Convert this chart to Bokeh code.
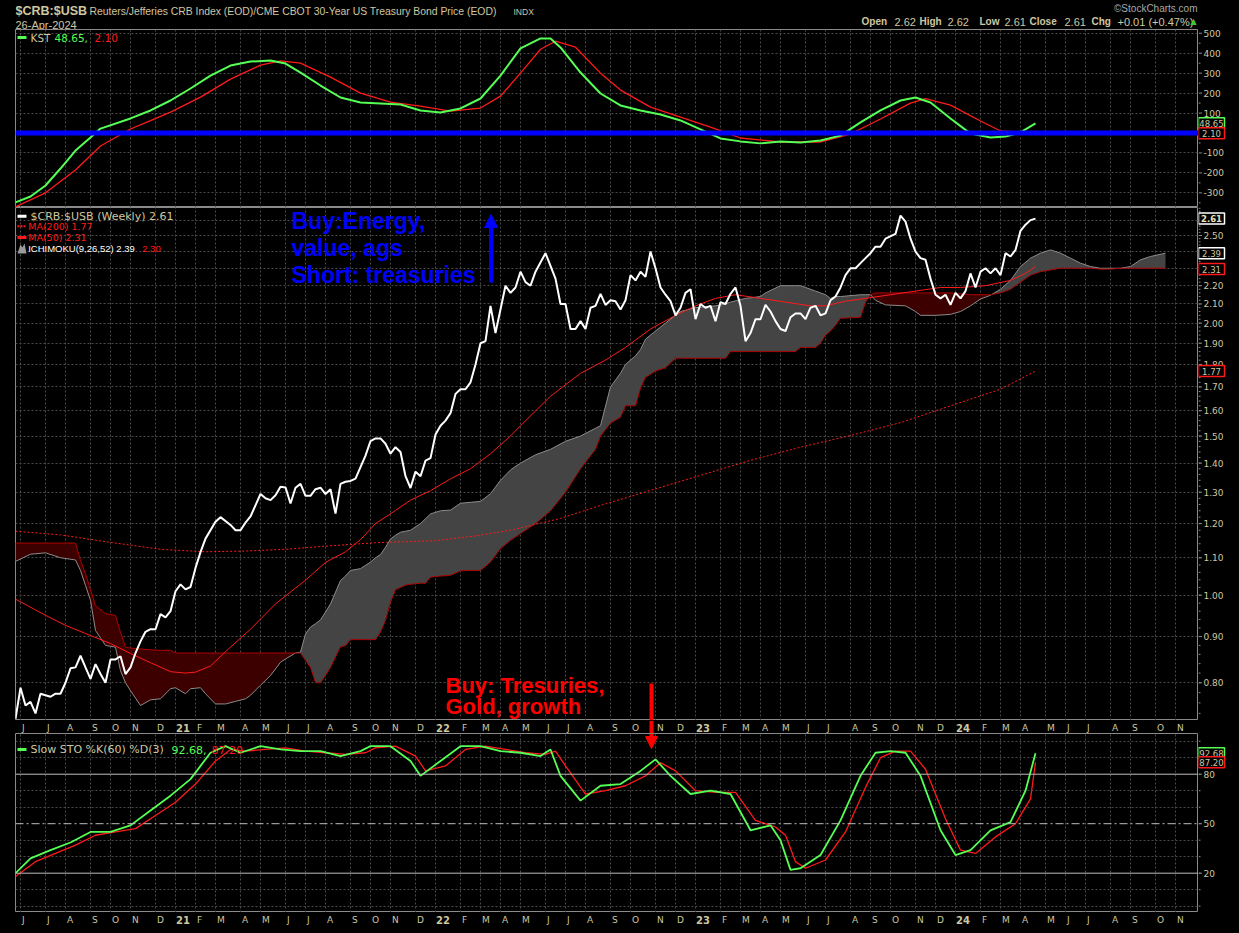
import math
import pandas as pd
from bokeh.plotting import figure
from bokeh.layouts import column, row
from bokeh.models import Range1d, FixedTicker, Span, Arrow, NormalHead
from bokeh.core.properties import value
from bokeh.embed import file_html
from bokeh.resources import INLINE

# ---------------- data (weekly bars, week index counted from 2020-05-29) ----------------
START = "2020-05-29"

price_wk = [0, 1, 2, 3, 4, 5, 7, 8, 9, 10, 11, 12, 13, 14, 15, 16, 17, 18, 19, 20, 21, 22, 23, 24, 25, 26, 27, 28, 29, 30,
            31, 32, 33, 34, 35, 36, 37, 38, 40, 41, 43, 44, 45, 46, 47, 49, 50, 51, 52, 53, 54, 55, 56, 57, 58, 59, 60, 61,
            62, 63, 64, 65, 66, 67, 68, 69, 70, 71, 72, 73, 74, 75, 76, 77, 78, 79, 80, 81, 82, 83, 84, 85, 86, 87, 88, 89,
            90, 91, 92, 93, 94, 95, 96, 98, 99, 100, 101, 102, 103, 104, 106, 108, 109, 110, 111, 112, 113, 114, 115, 116,
            117, 118, 119, 120, 121, 122, 123, 124, 125, 126, 127, 128, 129, 130, 131, 132, 133, 134, 135, 136, 137, 138,
            139, 140, 141, 142, 143, 144, 145, 146, 147, 148, 149, 150, 151, 152, 153, 154, 155, 156, 157, 158, 159, 160,
            161, 162, 163, 164, 165, 166, 167, 168, 169, 170, 171, 172, 173, 174, 176, 177, 178, 179, 180, 181, 182, 183,
            184, 185, 186, 187, 188, 189, 190, 191, 192, 193, 194, 195, 196, 197, 198, 199, 200, 201, 202, 203, 204]
price = [0.73, 0.79, 0.755, 0.762, 0.74, 0.778, 0.772, 0.778, 0.778, 0.80, 0.83, 0.832, 0.857, 0.832, 0.808, 0.839, 0.818,
         0.80, 0.849, 0.849, 0.856, 0.818, 0.832, 0.863, 0.889, 0.911, 0.917, 0.917, 0.953, 0.945, 0.96, 1.01, 1.028, 1.015,
         1.021, 1.072, 1.116, 1.155, 1.206, 1.22, 1.196, 1.18, 1.18, 1.203, 1.222, 1.294, 1.28, 1.274, 1.29, 1.318, 1.316,
         1.263, 1.315, 1.328, 1.288, 1.288, 1.31, 1.315, 1.294, 1.31, 1.231, 1.328, 1.335, 1.338, 1.346, 1.386, 1.427,
         1.481, 1.491, 1.491, 1.471, 1.434, 1.458, 1.44, 1.354, 1.314, 1.37, 1.354, 1.409, 1.418, 1.506, 1.54, 1.56, 1.59,
         1.67, 1.69, 1.69, 1.72, 1.80, 1.90, 1.91, 2.09, 1.95, 2.20, 2.16, 2.19, 2.28, 2.22, 2.20, 2.28, 2.39, 2.24, 2.10,
         2.10, 1.97, 1.97, 2.01, 1.97, 2.08, 2.09, 2.155, 2.095, 2.12, 2.115, 2.07, 2.12, 2.26, 2.23, 2.28, 2.25, 2.40,
         2.30, 2.19, 2.15, 2.115, 2.04, 2.08, 2.16, 2.18, 2.02, 2.10, 2.08, 2.09, 2.01, 2.11, 2.10, 2.155, 2.19, 2.09,
         1.91, 1.95, 2.02, 2.02, 2.095, 2.06, 2.01, 1.97, 1.96, 2.03, 2.05, 2.05, 2.02, 2.08, 2.09, 2.04, 2.05, 2.12, 2.14,
         2.19, 2.26, 2.30, 2.30, 2.33, 2.36, 2.39, 2.43, 2.43, 2.48, 2.51, 2.63, 2.59, 2.48, 2.40, 2.36, 2.35, 2.24, 2.15,
         2.13, 2.15, 2.095, 2.16, 2.13, 2.17, 2.27, 2.19, 2.28, 2.30, 2.27, 2.30, 2.26, 2.39, 2.37, 2.41, 2.53, 2.57, 2.60,
         2.61]

ma50_wk = [0, 6, 10, 14, 19, 23, 27, 31, 34, 36, 39, 42, 47, 52, 58, 62, 66, 69, 72, 76, 79, 83, 87, 91, 95,
           99, 101, 107, 113, 118, 122, 127, 132, 136, 140, 144, 149, 154, 159, 162, 166, 170, 175, 180, 185, 189, 194,
           199, 202, 204]
ma50 = [0.99, 0.95, 0.926, 0.907, 0.884, 0.862, 0.842, 0.823, 0.82, 0.822, 0.835, 0.866, 0.917, 0.978, 1.039, 1.087,
        1.117, 1.152, 1.20, 1.241, 1.274, 1.305, 1.345, 1.38, 1.434, 1.50, 1.54, 1.66, 1.76, 1.82, 1.88, 1.97, 2.04,
        2.09, 2.13, 2.15, 2.13, 2.11, 2.09, 2.09, 2.115, 2.13, 2.15, 2.17, 2.19, 2.19, 2.20, 2.23, 2.27, 2.31]

ma200_wk = [0, 9, 19, 29, 38, 46, 54, 62, 72, 84, 92, 99, 109, 117, 127, 137, 147, 157, 167, 177, 187, 197, 204]
ma200 = [1.177, 1.166, 1.144, 1.124, 1.117, 1.119, 1.124, 1.133, 1.143, 1.149, 1.163, 1.18, 1.216, 1.257, 1.306,
         1.357, 1.41, 1.458, 1.502, 1.552, 1.62, 1.69, 1.77]

# Ichimoku cloud (already shifted 26 weeks forward): span A and span B
cloud_wk = [0, 3, 6, 9, 12, 13, 14, 15, 16, 18,
            20, 21, 22, 23, 25, 27, 29, 31, 32, 34,
            35, 37, 38, 40, 42, 44, 46, 47, 49, 51,
            53, 54, 56, 57, 58, 59, 60, 61, 62, 63,
            65, 66, 67, 69, 71, 72, 73, 74, 75, 76,
            77, 78, 79, 81, 82, 83, 85, 87, 89, 91,
            93, 95, 97, 99, 101, 104, 107, 110, 113, 116,
            117, 119, 121, 122, 124, 125, 126, 128, 130, 132,
            133, 136, 140, 142, 143, 146, 149, 150, 153, 156,
            157, 158, 160, 161, 162, 163, 164, 165, 169, 170,
            171, 172, 174, 178, 180, 181, 184, 187, 189, 191,
            193, 195, 197, 199, 201, 203, 205, 207, 209, 211,
            213, 215, 217, 219, 221, 223, 225, 227, 230]
span_a = [1.09, 1.11, 1.114, 1.10, 1.094, 1.065, 1.025, 0.987, 0.914, 0.88,
          0.876, 0.825, 0.80, 0.784, 0.755, 0.766, 0.768, 0.788, 0.79, 0.778,
          0.788, 0.79, 0.778, 0.758, 0.758, 0.763, 0.768, 0.775, 0.795, 0.815,
          0.843, 0.85, 0.863, 0.865, 0.906, 0.922, 0.93, 0.939, 0.958, 0.978,
          1.038, 1.05, 1.065, 1.07, 1.088, 1.10, 1.109, 1.13, 1.154, 1.165,
          1.174, 1.177, 1.18, 1.20, 1.215, 1.23, 1.24, 1.242, 1.264, 1.267,
          1.27, 1.295, 1.34, 1.376, 1.40, 1.43, 1.45, 1.48, 1.50, 1.53,
          1.54, 1.70, 1.76, 1.80, 1.84, 1.87, 1.92, 1.96, 2.00, 2.04,
          2.06, 2.08, 2.09, 2.10, 2.11, 2.13, 2.14, 2.16, 2.20, 2.20,
          2.20, 2.19, 2.17, 2.16, 2.15, 2.13, 2.14, 2.14, 2.15, 2.15,
          2.15, 2.12, 2.095, 2.09, 2.06, 2.04, 2.04, 2.045, 2.06, 2.09,
          2.127, 2.147, 2.18, 2.23, 2.31, 2.36, 2.39, 2.41, 2.39, 2.36,
          2.33, 2.31, 2.30, 2.30, 2.30, 2.31, 2.35, 2.37, 2.39]
span_b = [1.142, 1.142, 1.142, 1.142, 1.142, 1.093, 1.056, 1.014, 0.974, 0.954,
          0.95, 0.91, 0.876, 0.874, 0.872, 0.87, 0.869, 0.869, 0.863, 0.863,
          0.863, 0.863, 0.863, 0.863, 0.863, 0.863, 0.863, 0.863, 0.863, 0.863,
          0.863, 0.863, 0.863, 0.863, 0.847, 0.832, 0.80, 0.80, 0.815, 0.832,
          0.877, 0.879, 0.893, 0.893, 0.893, 0.893, 0.91, 0.938, 0.982, 1.014,
          1.02, 1.026, 1.028, 1.031, 1.031, 1.047, 1.05, 1.052, 1.064, 1.065,
          1.065, 1.088, 1.126, 1.15, 1.17, 1.20, 1.24, 1.30, 1.38, 1.45,
          1.50, 1.55, 1.574, 1.62, 1.62, 1.694, 1.742, 1.77, 1.785, 1.829,
          1.829, 1.829, 1.829, 1.829, 1.86, 1.86, 1.86, 1.86, 1.86, 1.86,
          1.88, 1.88, 1.88, 1.90, 1.94, 1.96, 1.99, 2.025, 2.03, 2.11,
          2.15, 2.16, 2.16, 2.16, 2.16, 2.16, 2.16, 2.16, 2.155, 2.15,
          2.15, 2.15, 2.16, 2.18, 2.22, 2.26, 2.28, 2.29, 2.30, 2.30,
          2.30, 2.30, 2.295, 2.295, 2.30, 2.30, 2.30, 2.30, 2.30]

kst_wk = [0, 3, 6, 9, 12, 15, 17, 23, 27, 31, 35, 39, 43, 47, 51, 54, 57, 61, 65, 69, 73, 77, 81, 85, 89, 93, 97,
          101, 105, 107, 109, 113, 117, 121, 125, 129, 133, 137, 141, 145, 149, 153, 157, 161, 165, 169, 173, 177,
          180, 183, 187, 191, 195, 198, 201, 204]
kst = [-348, -318, -263, -178, -88, -23, 22, 73, 113, 163, 223, 288, 338, 358, 363, 348, 303, 238, 178, 153, 148,
       143, 113, 103, 123, 173, 288, 424, 474, 474, 429, 303, 198, 138, 113, 93, 63, 18, -27, -42, -52, -42, -47,
       -38, -13, 53, 113, 163, 178, 153, 73, -3, -23, -18, 3, 48.65]
kst_sig_wk = [0, 6, 12, 17, 23, 27, 31, 37, 43, 49, 53, 57, 63, 69, 75, 81, 87, 93, 97, 101, 105, 108, 112, 117,
              121, 127, 133, 139, 145, 153, 161, 167, 173, 179, 182, 187, 193, 197, 204]
kst_sig = [-370, -300, -185, -65, 20, 62, 105, 180, 270, 340, 362, 350, 280, 200, 155, 135, 110, 125, 185, 300,
           420, 460, 430, 300, 215, 130, 80, 30, -25, -45, -45, -5, 70, 150, 172, 140, 60, 10, 2.10]

sto_wk = [0, 3, 7, 11, 15, 19, 23, 27, 31, 35, 39, 42, 45, 49, 53, 57, 61, 65, 69, 71, 75, 79, 81, 85, 89, 93, 97,
          101, 105, 107, 109, 113, 117, 121, 125, 128, 131, 135, 139, 143, 147, 151, 153, 155, 157, 161, 165, 169,
          172, 175, 178, 181, 185, 188, 191, 195, 199, 202, 204]
sto_k = [20, 29, 34, 38.6, 45, 45, 49, 58, 67, 77, 93, 97, 93, 97, 95, 94, 94, 91, 94, 97, 97, 88, 79, 88, 97, 97, 94,
         93, 91, 95, 79, 64, 73, 74, 82, 89, 79, 68, 70, 68, 46, 49, 40, 22, 23, 31, 52, 79, 93, 94, 93, 79, 46, 31,
         34, 46, 51, 70, 92.68]
sto_d_wk = [0, 4, 8, 12, 16, 20, 24, 28, 32, 36, 40, 43, 46, 50, 54, 58, 62, 66, 70, 72, 76, 80, 82, 86, 90, 94, 98,
            102, 106, 108, 110, 114, 118, 122, 126, 129, 132, 136, 140, 144, 148, 152, 154, 156, 158, 162, 166, 170,
            173, 176, 179, 182, 186, 189, 192, 196, 200, 203, 204]
sto_d = [18, 27, 32, 37, 43, 45, 47, 55, 63, 74, 88, 95, 94, 95, 96, 94, 93, 92, 93, 96, 97, 91, 82, 85, 95, 97, 95,
         93, 92, 94, 85, 68, 70, 73, 79, 87, 82, 70, 69, 69, 52, 48, 43, 27, 23, 28, 45, 72, 90, 94, 94, 83, 53, 34,
         32, 42, 50, 65, 87.20]

month_labels = ["J", "J", "A", "S", "O", "N", "D",
                "21", "F", "M", "A", "M", "J", "J", "A", "S", "O", "N", "D",
                "22", "F", "M", "A", "M", "J", "J", "A", "S", "O", "N", "D",
                "23", "F", "M", "A", "M", "J", "J", "A", "S", "O", "N", "D",
                "24", "F", "M", "A", "M", "J", "J", "A", "S", "O", "N"]
kst_ticks = [-300, -200, -100, 0, 100, 200, 300, 400, 500]
kst_labels = ["-300", "-200", "-100", "0", "100", "200", "300", "400", "500"]
price_ticks = [0.8, 0.9, 1.0, 1.1, 1.2, 1.3, 1.4, 1.5, 1.6, 1.7, 1.8, 1.9, 2.0, 2.1, 2.2, 2.3, 2.4, 2.5, 2.6]
price_labels = ["0.80", "0.90", "1.00", "1.10", "1.20", "1.30", "1.40", "1.50", "1.60", "1.70", "1.80", "1.90",
                "2.00", "2.10", "2.20", "2.30", "2.40", "2.50", "2.60"]
sto_ticks = [20, 50, 80]
sto_labels = ["20", "50", "80"]
sto_grid = [0, 10, 30, 40, 60, 70, 90, 100]

# ---------------- styling / geometry ----------------
TAN = "#cfc7a0"
GRID = "#4a4a4a"
FRAME = "#8a8a8a"
GREEN = "#55ff55"
RED = "#ff1a1a"
FONT = "DejaVu Sans"
LS = "Liberation Sans"
FW, BL, BR = 1183, 15, 33
X_END = FW / 5.0


def px_x(px):
    return (px - BL) / 5.0


def kst_y(py):
    return (132.5 - py) / 0.1995


def main_y(py):
    return 0.8 * math.exp((682.3 - py) / 392.6)


def sto_y(py):
    return 80 - (py - 773.7) / 1.65


start_ts = pd.Timestamp(START)
tick_wk = []
for m in pd.date_range("2020-06-01", "2024-11-01", freq="MS"):
    b = m + pd.Timedelta(days=4)
    d = b + pd.Timedelta(days=(4 - b.weekday()) % 7)
    tick_wk.append((d - start_ts).days / 7.0)


def panel(h, yr, ytype="linear", grid_ticks=None, framed=True):
    p = figure(frame_width=FW, frame_height=h, x_range=Range1d(0, X_END), y_range=yr,
               y_axis_type=ytype, x_axis_location=None, y_axis_location=None,
               toolbar_location=None, output_backend="svg",
               min_border_left=BL, min_border_right=0 if framed else BR, min_border_top=0, min_border_bottom=0,
               background_fill_color="black", border_fill_color="black",
               outline_line_color=FRAME if framed else None)
    p.xgrid.ticker = FixedTicker(ticks=tick_wk)
    p.xgrid.grid_line_color = GRID if framed else None
    p.xgrid.grid_line_dash = "2 2"
    if grid_ticks is not None:
        p.ygrid.ticker = FixedTicker(ticks=grid_ticks)
    p.ygrid.grid_line_color = GRID if framed else None
    p.ygrid.grid_line_dash = "2 2"
    return p


def side(h, yr, ytype, ticks, labels, minor):
    """Right-hand value scale of a panel: ticks, labels and value tags, on the panel's own y range."""
    s = figure(frame_width=BR, frame_height=h, x_range=Range1d(0, BR), y_range=yr, y_axis_type=ytype,
               x_axis_location=None, y_axis_location=None, toolbar_location=None, output_backend="svg",
               min_border=0, background_fill_color="black", border_fill_color="black", outline_line_color=None)
    s.xgrid.visible = False
    s.ygrid.visible = False
    s.segment(x0=[0] * len(minor), y0=minor, x1=[2] * len(minor), y1=minor, line_color=FRAME, line_width=1)
    s.segment(x0=[0] * len(ticks), y0=ticks, x1=[3.5] * len(ticks), y1=ticks, line_color=FRAME, line_width=1)
    s.text(x=[5] * len(ticks), y=ticks, text=labels, text_font=value(FONT), text_font_size="9px",
           text_color=TAN, text_baseline="middle")
    return s


def tag(s, y, label, border, bold=False):
    s.rect(x=[13], y=[y], width=[26], height=[11], height_units="screen", fill_color="black",
           line_color=border, line_width=1.5)
    s.text(x=[13], y=[y], text=[label], text_font=value(FONT), text_font_size="8.5px",
           text_font_style="bold" if bold else "normal", text_color="#eae2bc" if bold else TAN,
           text_baseline="middle", text_align="center")


def txt(p, x, y, s, color=TAN, size="10px", bold=False, font=FONT, align="left"):
    p.text(x=[x], y=[y], text=[s], text_font=value(font), text_font_size=size,
           text_font_style="bold" if bold else "normal", text_color=color,
           text_baseline="middle", text_align=align)


# ---------------- header (same frame geometry as the panels; x in page pixels) ----------------
hdr = figure(frame_width=FW, frame_height=29, x_range=Range1d(BL, BL + FW), y_range=Range1d(29, 0),
             x_axis_location=None, y_axis_location=None, toolbar_location=None, output_backend="svg",
             min_border_left=BL, min_border_right=BR, min_border_top=0, min_border_bottom=0,
             background_fill_color="black", border_fill_color="black", outline_line_color=None)
hdr.xgrid.visible = False
hdr.ygrid.visible = False
txt(hdr, 15, 10.5, "$CRB:$USB", bold=True, size="12.5px", font=LS)
txt(hdr, 89, 11, "Reuters/Jefferies CRB Index (EOD)/CME CBOT 30-Year US Treasury Bond Price (EOD)", size="10.4px", font=LS)
txt(hdr, 513, 11.5, "INDX", size="8.5px", font=LS)
txt(hdr, 15, 24, "26-Apr-2024", size="11px", font=LS)
txt(hdr, 1197, 8, "\u00a9StockCharts.com", color="#a8a8a8", size="10px", font=LS, align="right")
for xx, s, bo in [(861, "Open", True), (894, "2.62", False), (919, "High", True), (947, "2.62", False),
                  (979, "Low", True), (1004, "2.61", False), (1029, "Close", True), (1064, "2.61", False),
                  (1091, "Chg", True), (1117, "+0.01 (+0.47%)", False)]:
    txt(hdr, xx, 21, s, bold=bo, size="10px" if bo else "11px", font=LS)
txt(hdr, 1190, 21, "\u25b2", color="#33cc33", size="8px", font=FONT)

# ---------------- KST panel ----------------
kst_range = Range1d(-373.4, 518.8)
pk = panel(178, kst_range, grid_ticks=kst_ticks)
pk.line(kst_sig_wk, kst_sig, line_color=RED, line_width=1.3)
pk.line(kst_wk, kst, line_color=GREEN, line_width=2)
pk.add_layout(Span(location=0, dimension="width", line_color="#0000ff", line_width=5))
pk.segment(x0=[px_x(17)], y0=[kst_y(37)], x1=[px_x(26)], y1=[kst_y(37)], line_color=GREEN, line_width=3)
txt(pk, px_x(30), kst_y(37), "KST", size="10.5px")
txt(pk, px_x(54), kst_y(37), "48.65,", color=GREEN, size="10.5px")
txt(pk, px_x(94), kst_y(37), "2.10", color=RED, size="10.5px")
sk = side(178, kst_range, "linear", kst_ticks, kst_labels, [-350, -250, -150, -50, 50, 150, 250, 350, 450])
tag(sk, 48.65, "48.65", GREEN)
tag(sk, -1.0, "2.10", RED)

# ---------------- price panel ----------------
main_range = Range1d(0.7267, 2.685)
pm = panel(513, main_range, ytype="log", grid_ticks=price_ticks)
cloud_top = [max(a, b) for a, b in zip(span_a, span_b)]
pm.varea(x=cloud_wk, y1=span_b, y2=cloud_top, fill_color="#444444")
pm.varea(x=cloud_wk, y1=span_a, y2=cloud_top, fill_color="#3d0000")
pm.line(cloud_wk, span_a, line_color="#8c8c8c", line_width=1)
pm.line(cloud_wk, span_b, line_color="#b00000", line_width=1)
pm.line(ma200_wk, ma200, line_color=RED, line_width=1, line_dash="2 2")
pm.line(ma50_wk, ma50, line_color=RED, line_width=1)
pm.line(price_wk, price, line_color="white", line_width=2)

pm.segment(x0=[px_x(17)], y0=[main_y(215.7)], x1=[px_x(26)], y1=[main_y(215.7)], line_color="white", line_width=3)
txt(pm, px_x(30), main_y(215.7), "$CRB:$USB (Weekly) 2.61", size="11px")
pm.segment(x0=[px_x(17)], y0=[main_y(225.7)], x1=[px_x(26)], y1=[main_y(225.7)], line_color=RED, line_width=2,
           line_dash="2 1")
txt(pm, px_x(27.7), main_y(225.7), "MA(200) 1.77", color=RED, size="9.5px")
pm.segment(x0=[px_x(17)], y0=[main_y(237)], x1=[px_x(26)], y1=[main_y(237)], line_color=RED, line_width=3)
txt(pm, px_x(27.7), main_y(237), "MA(50) 2.31", color=RED, size="9.5px")
txt(pm, px_x(27.7), main_y(248.3), "ICHIMOKU(9,26,52) 2.39", color="white", size="9.5px", font=LS)
txt(pm, px_x(141.7), main_y(248.3), "2.30", color=RED, size="9.5px", font=LS)
pm.patch(x=[px_x(17), px_x(20), px_x(22), px_x(24), px_x(26)],
         y=[main_y(253), main_y(244), main_y(247), main_y(243), main_y(253)], fill_color="#9a9a9a", line_color=None)

BLUE = "#0000ff"
for yy, s in [(220, "Buy:Energy,"), (247, "value, ags"), (274, "Short: treasuries")]:
    txt(pm, px_x(291), main_y(yy), s, color=BLUE, size="23px", bold=True, font=LS)
pm.add_layout(Arrow(end=NormalHead(size=13, fill_color=BLUE, line_color=BLUE), line_color=BLUE, line_width=4,
                    x_start=px_x(490.5), y_start=main_y(282), x_end=px_x(490.5), y_end=main_y(214)))
for yy, s in [(685, "Buy: Tresuries,"), (706, "Gold, growth")]:
    txt(pm, px_x(445), main_y(yy), s, color="#ff0000", size="22px", bold=True, font=LS)
pm.add_layout(Arrow(end=None, line_color="#ff0000", line_width=4,
                    x_start=px_x(651), y_start=main_y(683), x_end=px_x(651), y_end=main_y(721)))
minor_main = [round(0.74 + 0.02 * i, 2) for i in range(100) if 0.74 + 0.02 * i < 2.68]
sm = side(513, main_range, "log", price_ticks, price_labels, minor_main)
tag(sm, 2.61, "2.61", "white", bold=True)
tag(sm, 2.39, "2.39", "white")
tag(sm, 2.295, "2.31", RED)
tag(sm, 1.77, "1.77", RED)


# ---------------- date bands ----------------
def band(arrow=False):
    b = panel(13, Range1d(0, 1), framed=False)
    norm = [(t + 0.3, s) for t, s in zip(tick_wk, month_labels) if not s.isdigit()]
    yrs = [(t + 0.1, s) for t, s in zip(tick_wk, month_labels) if s.isdigit()]
    b.text(x=[a for a, _ in norm], y=[0.45] * len(norm), text=[s for _, s in norm], text_font=value(FONT),
           text_font_size="9px", text_color=TAN, text_baseline="middle")
    b.text(x=[a for a, _ in yrs], y=[0.45] * len(yrs), text=[s for _, s in yrs], text_font=value(FONT),
           text_font_size="10px", text_font_style="bold", text_color=TAN, text_baseline="middle")
    if arrow:
        b.segment(x0=[px_x(651)], y0=[0], x1=[px_x(651)], y1=[1], line_color="#ff0000", line_width=4)
    return b


b1 = band(arrow=True)

# ---------------- Slow stochastic panel ----------------
sto_range = Range1d(-3.82, 104.67)
ps = panel(179, sto_range, grid_ticks=sto_grid)
ps.add_layout(Span(location=80, dimension="width", line_color="#bdbdbd", line_width=1))
ps.add_layout(Span(location=20, dimension="width", line_color="#bdbdbd", line_width=1))
ps.add_layout(Span(location=50, dimension="width", line_color="#bdbdbd", line_width=1, line_dash="8 3 2 3"))
ps.line(sto_d_wk, sto_d, line_color=RED, line_width=1.3)
ps.line(sto_wk, sto_k, line_color=GREEN, line_width=1.8)
ps.segment(x0=[px_x(17)], y0=[sto_y(749)], x1=[px_x(26)], y1=[sto_y(749)], line_color=GREEN, line_width=3)
txt(ps, px_x(30), sto_y(749), "Slow STO %K(60) %D(3)", size="11px")
txt(ps, px_x(171), sto_y(749), "92.68,", color=GREEN, size="11px")
txt(ps, px_x(211), sto_y(749), "87.20", color=RED, size="11px")
ps.add_layout(Arrow(end=NormalHead(size=12, fill_color="#ff0000", line_color="#ff0000"), line_color="#ff0000",
                    line_width=4, x_start=px_x(651), y_start=sto_y(733), x_end=px_x(651), y_end=sto_y(748)))
ss = side(179, sto_range, "linear", sto_ticks, sto_labels, list(range(0, 101, 10)))
tag(ss, 92.68, "92.68", GREEN)
tag(ss, 87.20, "87.20", RED)

b2 = band()

layout = column(hdr, row(pk, sk, spacing=0), row(pm, sm, spacing=0), b1, row(ps, ss, spacing=0), b2, spacing=0)
TEMPLATE = "{% block preamble %}<style>html, body { background: #000000; }</style>{% endblock %}"
open("out.html", "w").write(file_html(layout, INLINE, template=TEMPLATE))
